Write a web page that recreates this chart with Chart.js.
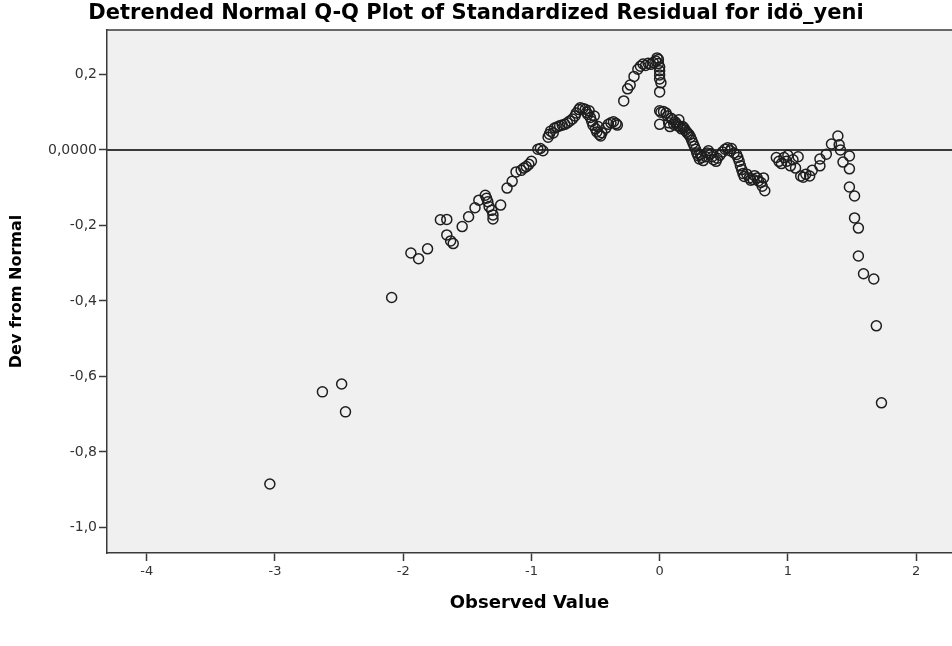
<!DOCTYPE html>
<html>
<head>
<meta charset="utf-8">
<script src="https://cdn.jsdelivr.net/npm/chart.js@4/dist/chart.umd.min.js"></script>
<style>
  html, body { margin: 0; padding: 0; background: #fff; }
  #wrap { width: 952px; height: 646px; }
</style>
</head>
<body>
<div id="wrap"><canvas id="qqChart" width="952" height="646"></canvas></div>
<script>
//?Datos del grafico: valor observado y desviacion de la normal
const observedValues = [
  -3.04, -2.63, -2.48, -2.45, -2.09, -1.94, -1.88, -1.81, -1.71, -1.66,
  -1.66, -1.63, -1.61, -1.54, -1.49, -1.44, -1.41, -1.36, -1.35, -1.34,
  -1.33, -1.31, -1.30, -1.30, -1.24, -1.19, -1.15, -1.12, -1.08, -1.06,
  -1.04, -1.02, -1.00, -0.95, -0.93, -0.91, -0.87, -0.86, -0.85, -0.83,
  -0.82, -0.80, -0.78, -0.76, -0.74, -0.72, -0.70, -0.68, -0.66, -0.65,
  -0.63, -0.62, -0.60, -0.58, -0.57, -0.56, -0.55, -0.54, -0.53, -0.52,
  -0.51, -0.50, -0.49, -0.48, -0.47, -0.46, -0.45, -0.42, -0.40, -0.38,
  -0.36, -0.34, -0.33, -0.28, -0.25, -0.23, -0.20, -0.17, -0.15, -0.13,
  -0.11, -0.09, -0.07, -0.05, -0.03, -0.02, -0.01, -0.01, 0.00, 0.00,
  0.00, 0.00, 0.01, 0.00, 0.00, 0.01, 0.00, 0.03, 0.05, 0.06,
  0.07, 0.08, 0.09, 0.10, 0.11, 0.12, 0.13, 0.14, 0.15, 0.16,
  0.17, 0.18, 0.19, 0.20, 0.21, 0.22, 0.23, 0.24, 0.25, 0.26,
  0.27, 0.28, 0.29, 0.30, 0.31, 0.32, 0.33, 0.34, 0.36, 0.37,
  0.38, 0.40, 0.41, 0.42, 0.44, 0.45, 0.47, 0.49, 0.51, 0.53,
  0.55, 0.56, 0.58, 0.60, 0.61, 0.62, 0.63, 0.64, 0.65, 0.66,
  0.68, 0.70, 0.71, 0.73, 0.74, 0.76, 0.77, 0.79, 0.80, 0.82,
  0.81, 0.91, 0.93, 0.95, 0.97, 0.99, 1.00, 1.02, 1.04, 1.06,
  1.08, 1.10, 1.12, 1.14, 1.17, 1.19, 1.25, 1.25, 1.30, 1.34,
  1.39, 1.40, 1.41, 1.43, 1.48, 1.48, 1.48, 1.52, 1.52, 1.55,
  1.55, 1.59, 1.67, 1.69, 1.73
]
const devFromNormal = [
  -0.885, -0.641, -0.620, -0.694, -0.391, -0.273, -0.288, -0.262, -0.185, -0.184,
  -0.225, -0.241, -0.248, -0.203, -0.177, -0.153, -0.133, -0.120, -0.128, -0.137,
  -0.150, -0.160, -0.172, -0.183, -0.146, -0.101, -0.083, -0.058, -0.054, -0.048,
  -0.044, -0.038, -0.030, 0.002, 0.004, -0.002, 0.034, 0.042, 0.050, 0.045,
  0.058, 0.061, 0.064, 0.066, 0.068, 0.072, 0.077, 0.082, 0.090, 0.098,
  0.107, 0.112, 0.110, 0.108, 0.100, 0.094, 0.104, 0.086, 0.076, 0.066,
  0.090, 0.056, 0.048, 0.062, 0.041, 0.037, 0.046, 0.058, 0.068, 0.072,
  0.075, 0.070, 0.066, 0.130, 0.162, 0.172, 0.195, 0.214, 0.222, 0.228,
  0.224, 0.230, 0.227, 0.232, 0.236, 0.244, 0.240, 0.229, 0.220, 0.210,
  0.199, 0.188, 0.178, 0.154, 0.104, 0.100, 0.068, 0.102, 0.098, 0.090,
  0.072, 0.062, 0.084, 0.080, 0.068, 0.075, 0.070, 0.064, 0.080, 0.062,
  0.056, 0.062, 0.058, 0.052, 0.048, 0.044, 0.040, 0.034, 0.026, 0.018,
  0.010, 0.002, -0.008, -0.015, -0.024, -0.012, -0.020, -0.028, -0.018, -0.008,
  -0.002, -0.010, -0.018, -0.026, -0.030, -0.022, -0.014, -0.005, 0.002, 0.006,
  -0.002, 0.004, -0.008, -0.012, -0.020, -0.030, -0.042, -0.052, -0.062, -0.070,
  -0.064, -0.074, -0.080, -0.078, -0.068, -0.074, -0.082, -0.086, -0.096, -0.108,
  -0.074, -0.020, -0.030, -0.036, -0.020, -0.030, -0.014, -0.042, -0.026, -0.048,
  -0.018, -0.069, -0.072, -0.064, -0.069, -0.054, -0.024, -0.042, -0.011, 0.016,
  0.037, 0.014, 0.000, -0.032, -0.016, -0.050, -0.098, -0.122, -0.180, -0.207,
  -0.281, -0.328, -0.342, -0.466, -0.670
]
//*Marcas de los ejes
const xTicks = [-4, -3, -2, -1, 0, 1, 2]
const yTicks = [-1.0, -0.8, -0.6, -0.4, -0.2, 0.0, 0.2]

const points = observedValues.map((v, i) => ({ x: v, y: devFromNormal[i] }))

const fontFamily = "'DejaVu Sans', 'Liberation Sans', sans-serif"
const frameColor = "#3a3a3a"

//Fondo gris del area, marco superior y la linea de referencia en 0
const plotDecor = {
  id: "plotDecor",
  beforeDatasetsDraw(chart) {
    const { ctx, chartArea: a, scales } = chart
    ctx.save()
    ctx.strokeStyle = frameColor
    ctx.lineWidth = 2
    const y0 = scales.y.getPixelForValue(0)
    ctx.beginPath()
    ctx.moveTo(a.left, y0)
    ctx.lineTo(a.right, y0)
    ctx.stroke()
    ctx.lineWidth = 1.5
    ctx.beginPath()
    ctx.moveTo(a.left, a.top)
    ctx.lineTo(a.right, a.top)
    ctx.stroke()
    ctx.restore()
  },
  beforeDraw(chart) {
    const { ctx, chartArea: a } = chart
    ctx.save()
    ctx.fillStyle = "#f0f0f0"
    ctx.fillRect(a.left, a.top, a.right - a.left, a.bottom - a.top)
    ctx.restore()
  }
}

const fmtComma = v => {
  if (Math.abs(v) < 1e-9) return "0,0000"
  return v.toFixed(1).replace(".", ",")
}

const ctx = document.getElementById("qqChart").getContext("2d")
const qqChart = new Chart(ctx, {
  type: "scatter",
  data: {
    datasets: [{
      data: points,
      pointStyle: "circle",
      pointRadius: 5,
      pointHoverRadius: 5,
      borderWidth: 1.5,
      borderColor: "#1e1e1e",
      backgroundColor: "rgba(0,0,0,0)"
    }]
  },
  options: {
    responsive: false,
    animation: false,
    layout: { padding: 0, autoPadding: false },
    plugins: {
      legend: { display: false },
      tooltip: { enabled: false },
      title: {
        display: true,
        text: "Detrended Normal Q-Q Plot of Standardized Residual for idö_yeni",
        color: "#000",
        font: { family: fontFamily, size: 21, weight: "bold", lineHeight: 1.2 },
        padding: { top: 1, bottom: 3.8 }
      }
    },
    scales: {
      x: {
        type: "linear",
        min: -4.31,
        max: 2.28,
        afterBuildTicks: scale => { scale.ticks = xTicks.map(v => ({ value: v })) },
        afterFit: scale => {
          scale.height = 93
          scale.paddingLeft = 0
          scale.paddingRight = 0
        },
        border: { display: true, color: frameColor, width: 1.5 },
        grid: { drawOnChartArea: false, drawTicks: true, tickLength: 8, tickColor: frameColor, tickWidth: 1.5 },
        ticks: {
          color: "#333",
          padding: 3,
          font: { family: fontFamily, size: 13 },
          callback: v => String(v)
        },
        title: {
          display: true,
          text: "Observed Value",
          color: "#000",
          font: { family: fontFamily, size: 18, weight: "bold", lineHeight: 1.2 },
          padding: { top: 0, bottom: 32 }
        }
      },
      y: {
        type: "linear",
        min: -1.068,
        max: 0.318,
        afterBuildTicks: scale => { scale.ticks = yTicks.map(v => ({ value: v })) },
        afterFit: scale => {
          scale.width = 107
          scale.paddingTop = 0
          scale.paddingBottom = 0
        },
        border: { display: true, color: frameColor, width: 1.5 },
        grid: { drawOnChartArea: false, drawTicks: true, tickLength: 8, tickColor: frameColor, tickWidth: 1.5 },
        ticks: {
          color: "#333",
          padding: 2,
          font: { family: fontFamily, size: 14 },
          callback: v => fmtComma(v)
        },
        title: {
          display: true,
          text: "Dev from Normal",
          color: "#000",
          font: { family: fontFamily, size: 16, weight: "bold", lineHeight: 1.2 },
          padding: { top: 7, bottom: 0 }
        }
      }
    }
  },
  plugins: [plotDecor]
})
</script>
</body>
</html>
